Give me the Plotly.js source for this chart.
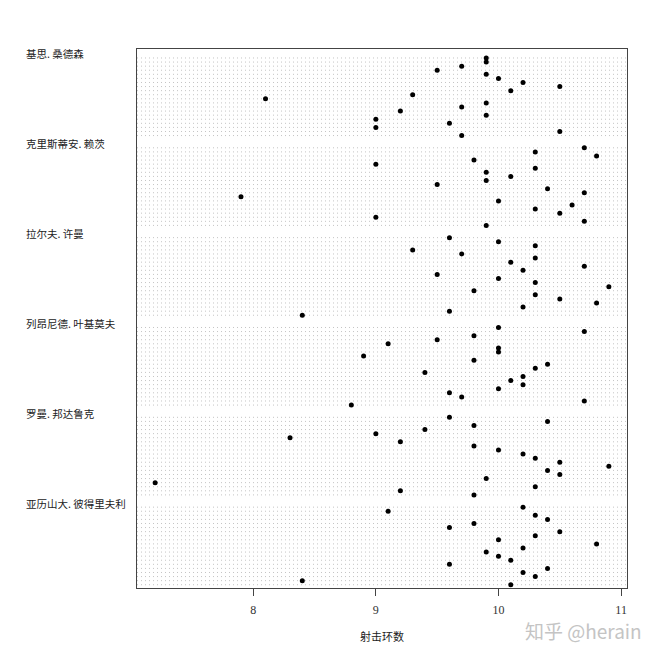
<!DOCTYPE html>
<html><head><meta charset="utf-8">
<script src="https://cdn.plot.ly/plotly-3.0.1.min.js"></script>
<style>body{margin:0;background:#fff}#chart{width:650px;height:651px}</style>
</head><body><div id="chart"></div>
<script>
// shooters (top to bottom) and their 20 shot scores each, in display order (top row first)
const shooters = ["基思. 桑德森", "克里斯蒂安. 赖茨", "拉尔夫. 许曼", "列昂尼德. 叶基莫夫", "罗曼. 邦达鲁克", "亚历山大. 彼得里夫利"];
const sanderson = [9.9, 9.9, 9.7, 9.5, 9.9, 10.0, 10.2, 10.5, 10.1, 9.3, 8.1, 9.9, 9.7, 9.2, 9.9, 9.0, 9.6, 9.0, 10.5, 9.7];
const reitz = [10.7, 10.3, 10.8, 9.8, 9.0, 10.3, 9.9, 10.1, 9.9, 9.5, 10.4, 10.7, 7.9, 10.0, 10.6, 10.3, 10.5, 9.0, 10.7, 9.9];
const schumann = [9.6, 10.0, 10.3, 9.3, 9.7, 10.3, 10.1, 10.7, 10.2, 9.5, 10.0, 10.3, 10.9, 9.8, 10.3, 10.5, 10.8, 10.2, 9.6, 8.4];
const yekimov = [10.0, 10.7, 9.8, 9.5, 9.1, 10.0, 10.0, 8.9, 9.8, 10.4, 10.3, 9.4, 10.2, 10.1, 10.2, 10.0, 9.6, 9.7, 10.7, 8.8];
const bondaruk = [9.6, 10.4, 9.8, 9.4, 9.0, 8.3, 9.2, 9.8, 10.0, 10.2, 10.3, 10.5, 10.9, 10.4, 10.5, 9.9, 7.2, 10.3, 9.2, 9.8];
const petriv = [10.2, 9.1, 10.3, 10.4, 9.8, 9.6, 10.5, 10.3, 10.0, 10.8, 10.2, 9.9, 10.0, 10.1, 9.6, 10.4, 10.2, 10.3, 8.4, 10.1];
const xTicks = [8, 9, 10, 11];
const xTitle = "射击环数";
const watermark = "知乎 @herain";

const groups = [sanderson, reitz, schumann, yekimov, bondaruk, petriv];
const ROWS_PER_GROUP = 22; // label row + 20 shots + blank row

const xs = [], ys = [];
const shapes = [];
const annotations = [];
groups.forEach((vals, g) => {
  vals.forEach((v, j) => {
    const row = g * ROWS_PER_GROUP + j;
    xs.push(v); ys.push(row);
    shapes.push({type: 'line', xref: 'paper', yref: 'y', x0: 0, x1: 1, y0: row, y1: row,
      line: {color: '#c4c4c4', width: 1, dash: '1px,3px'}, layer: 'below'});
  });
  annotations.push({xref: 'paper', yref: 'y', x: -0.2306, y: g * ROWS_PER_GROUP - 1,
    xanchor: 'left', yanchor: 'middle', showarrow: false, text: shooters[g],
    font: {family: '"Noto Sans CJK SC", sans-serif', size: 10.5, color: '#222'}});
});
annotations.push({xref: 'paper', yref: 'paper', x: 1.035, y: -0.078, xanchor: 'right', yanchor: 'middle',
  showarrow: false, text: watermark, font: {family: '"Noto Sans CJK SC", sans-serif', size: 19, color: '#c4c4c4'}});

const trace = {x: xs, y: ys, type: 'scatter', mode: 'markers',
  marker: {color: '#000', size: 5}, hoverinfo: 'x', showlegend: false};

const layout = {
  width: 650, height: 651,
  margin: {l: 137, r: 23, t: 49, b: 63},
  paper_bgcolor: '#fff', plot_bgcolor: '#fff',
  font: {family: '"Liberation Serif", "DejaVu Serif", serif', color: '#333'},
  xaxis: {range: [7.052, 11.048], tickvals: xTicks, ticktext: xTicks.map(String),
    ticks: 'outside', ticklen: 7, tickcolor: '#444', tickwidth: 1, ticklabelstandoff: 4,
    showgrid: false, zeroline: false, showline: true, mirror: true, linecolor: '#444', linewidth: 1,
    tickfont: {family: '"Liberation Serif", "DejaVu Serif", serif', size: 12, color: '#333'},
    title: {text: xTitle, standoff: 16, font: {family: '"Noto Sans CJK SC", sans-serif', size: 11, color: '#222'}}},
  yaxis: {range: [129.8, -2.2], showticklabels: false, ticks: '', showgrid: false, zeroline: false,
    showline: true, mirror: true, linecolor: '#444', linewidth: 1},
  shapes: shapes,
  annotations: annotations
};
Plotly.newPlot('chart', [trace], layout, {displayModeBar: false, staticPlot: true});
</script>
</body></html>
